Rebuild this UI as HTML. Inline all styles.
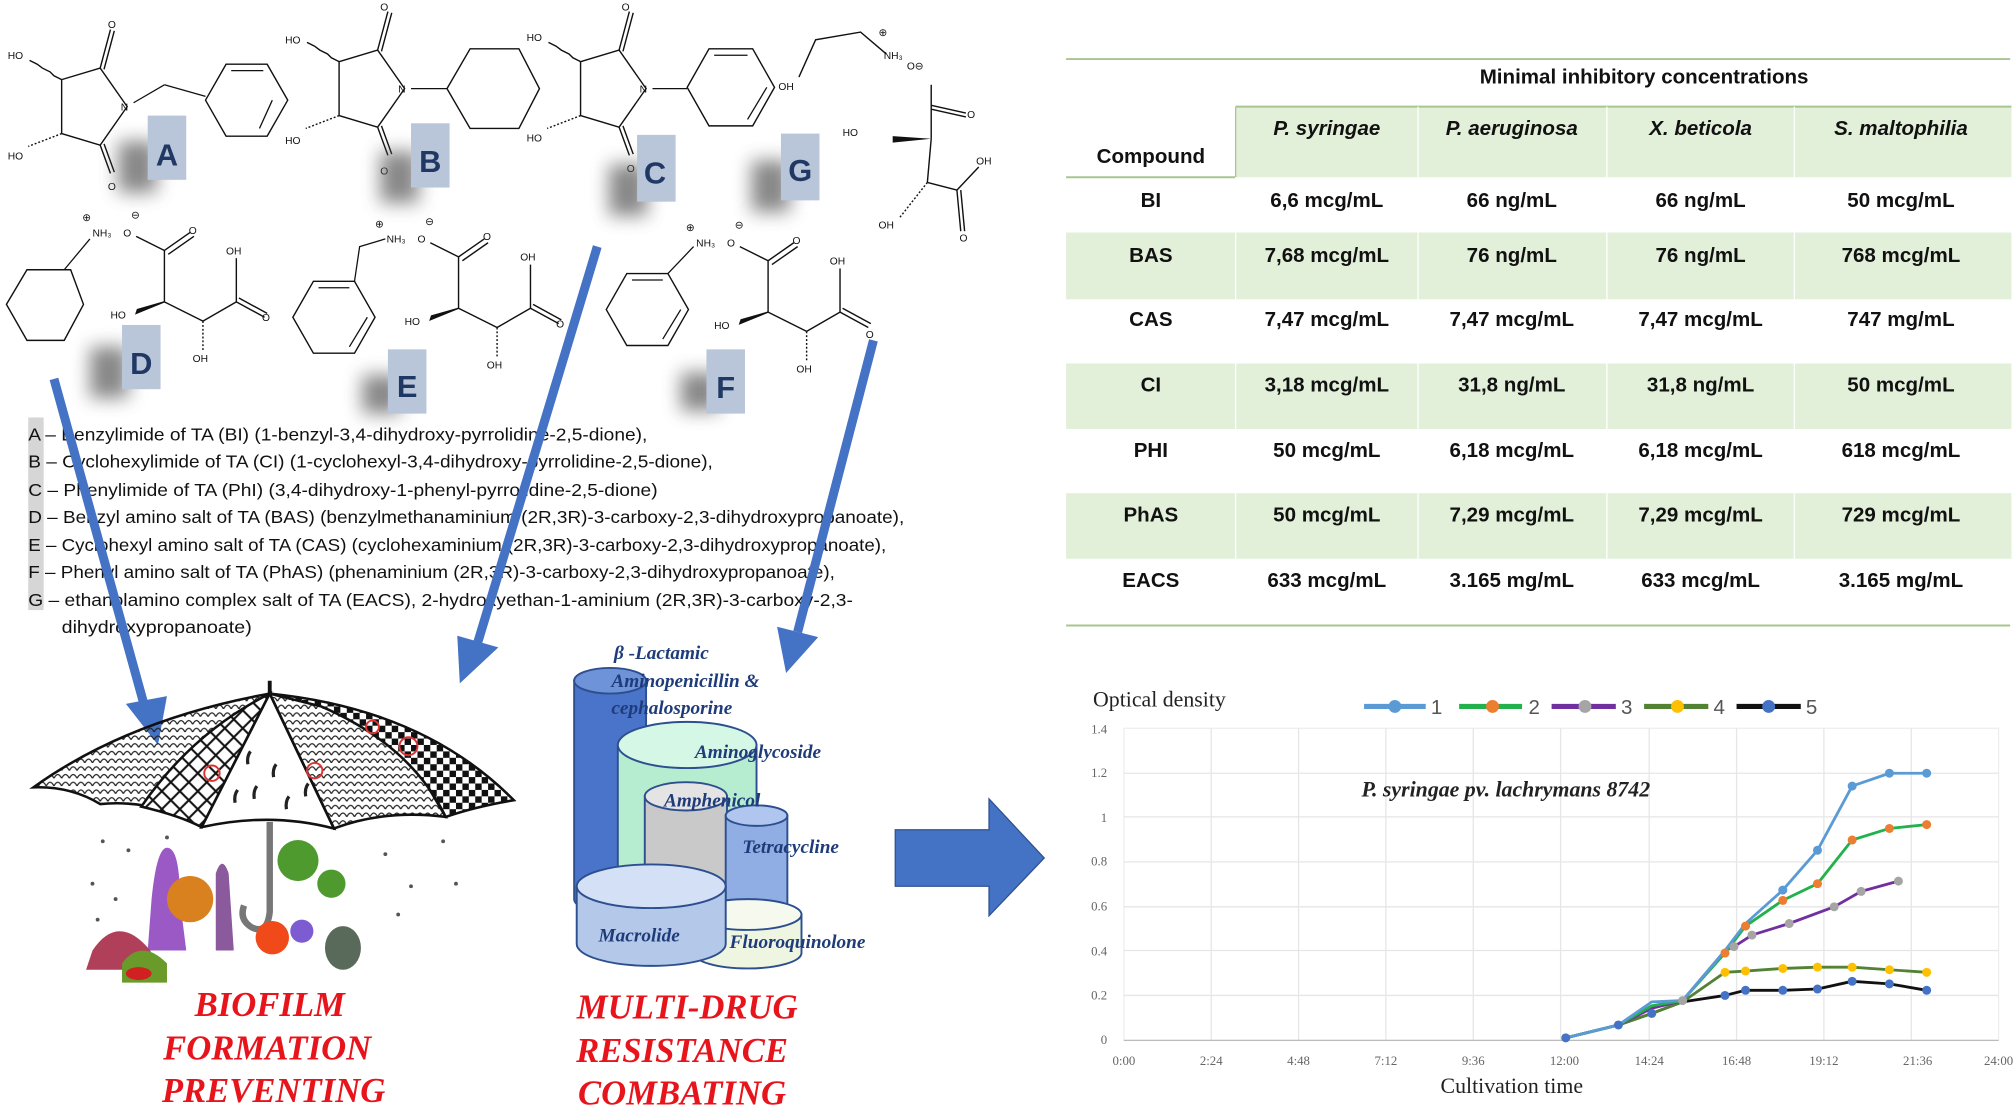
<!DOCTYPE html>
<html><head><meta charset="utf-8"><style>
html,body{margin:0;padding:0;background:#fff;}
svg{display:block;}
.t{font-family:"Liberation Sans",sans-serif;}
.tb{font-family:"Liberation Sans Narrow","Liberation Sans",sans-serif;font-weight:bold;font-size:16px;fill:#111;text-anchor:middle;}
.ch{font-family:"Liberation Sans",sans-serif;font-size:8px;fill:#111;}
.lg{font-family:"Liberation Sans Narrow","Liberation Sans",sans-serif;font-size:14px;fill:#111;}
.red{font-family:"Liberation Serif",serif;font-weight:bold;font-style:italic;font-size:27px;fill:#e8141c;text-anchor:middle;}
.cy{font-family:"Liberation Serif",serif;font-weight:bold;font-style:italic;font-size:15px;fill:#1f3c7a;}
.ax{font-family:"Liberation Serif",serif;font-size:10px;fill:#666;}
</style></head><body>
<svg width="2014" height="1119" viewBox="0 0 1568 871.2" preserveAspectRatio="none" xmlns="http://www.w3.org/2000/svg">
<defs>
<filter id="bl" x="-50%" y="-50%" width="200%" height="200%"><feGaussianBlur stdDeviation="7"/></filter>
<pattern id="hat" width="6" height="6" patternUnits="userSpaceOnUse"><path d="M0 6 Q3 0 6 6" fill="none" stroke="#222" stroke-width="1"/></pattern>
<pattern id="chk" width="10" height="10" patternUnits="userSpaceOnUse"><rect width="10" height="10" fill="#fff"/><rect width="5" height="5" fill="#111"/><rect x="5" y="5" width="5" height="5" fill="#111"/></pattern>
<pattern id="net" width="14" height="14" patternUnits="userSpaceOnUse"><rect width="14" height="14" fill="#fff"/><path d="M0 0L14 14M14 0L0 14" stroke="#111" stroke-width="1.6"/></pattern>
<g id="imide" fill="none" stroke="#111" stroke-width="1.1">
<polygon points="-51,-21 -21,-30 0,0 -21,30 -51,21"/>
<line x1="-21" y1="-30" x2="-13" y2="-60"/><line x1="-18" y1="-29" x2="-10" y2="-59"/>
<line x1="-21" y1="30" x2="-13" y2="52"/><line x1="-18" y1="29" x2="-10" y2="51"/>
<path d="M-51 -21 l-6 -3 l-3 -3 l-6 -3 l-4 -3 l-6 -3"/>
<path d="M-51 21 l-26 10" stroke-dasharray="1.5 1.5"/>
</g>
<g id="tart" fill="none" stroke="#111" stroke-width="1.1">
<line x1="52" y1="16" x2="52" y2="56"/><line x1="52" y1="16" x2="72" y2="2"/><line x1="55" y1="19" x2="75" y2="5"/>
<line x1="52" y1="16" x2="30" y2="5"/>
<line x1="52" y1="56" x2="82" y2="71"/><line x1="82" y1="71" x2="108" y2="56"/>
<polygon points="52,56 30,65 31,62" fill="#111"/>
<line x1="82" y1="71" x2="82" y2="95" stroke-dasharray="1.5 1.5"/>
<line x1="108" y1="56" x2="108" y2="22"/><line x1="108" y1="56" x2="130" y2="68"/><line x1="110" y1="53" x2="132" y2="65"/>
</g>
</defs>

<!-- structures top -->
<use href="#imide" x="99" y="83"/>
<text class="ch" x="84" y="22">O</text><text class="ch" x="84" y="148">O</text>
<text class="ch" x="6" y="46">HO</text><text class="ch" x="6" y="124">HO</text><text class="ch" x="94" y="86">N</text>
<line x1="104" y1="80" x2="128" y2="66" stroke="#111"/><line x1="128" y1="66" x2="160" y2="75" stroke="#111"/>
<polygon points="160,78 176,50 208,50 224,78 208,106 176,106" fill="none" stroke="#111" stroke-width="1.1"/>
<polyline points="180,55 205,55" stroke="#111" fill="none"/><polyline points="212,78 202,100" stroke="#111" fill="none"/>

<use href="#imide" x="315" y="69"/>
<text class="ch" x="296" y="8">O</text><text class="ch" x="296" y="136">O</text>
<text class="ch" x="222" y="34">HO</text><text class="ch" x="222" y="112">HO</text><text class="ch" x="310" y="72">N</text>
<line x1="320" y1="69" x2="348" y2="69" stroke="#111"/>
<polygon points="348,69 366,38 404,38 420,69 404,100 366,100" fill="none" stroke="#111" stroke-width="1.1"/>

<use href="#imide" x="503" y="69"/>
<text class="ch" x="484" y="8">O</text><text class="ch" x="488" y="134">O</text>
<text class="ch" x="410" y="32">HO</text><text class="ch" x="410" y="110">HO</text><text class="ch" x="498" y="72">N</text>
<line x1="508" y1="69" x2="535" y2="69" stroke="#111"/>
<polygon points="535,68 552,38 586,38 603,68 586,98 552,98" fill="none" stroke="#111" stroke-width="1.1"/>
<line x1="556" y1="43" x2="582" y2="43" stroke="#111"/><line x1="597" y1="68" x2="582" y2="93" stroke="#111"/>

<!-- G -->
<g fill="none" stroke="#111" stroke-width="1.1"><polyline points="622,60 635,31 670,25 690,42"/>
<line x1="725" y1="66" x2="725" y2="108"/><line x1="725" y1="82" x2="752" y2="88"/><line x1="725" y1="85" x2="752" y2="91"/>
<line x1="725" y1="108" x2="722" y2="142"/><line x1="722" y1="142" x2="745" y2="148"/><line x1="745" y1="148" x2="748" y2="180"/><line x1="748" y1="148" x2="751" y2="180"/><line x1="745" y1="148" x2="762" y2="130"/>
<line x1="722" y1="142" x2="700" y2="170" stroke-dasharray="1.5 1.5"/></g>
<polygon points="725,108 695,106 695,111" fill="#111"/>
<text class="ch" x="606" y="70">OH</text><text class="ch" x="684" y="28">⊕</text><text class="ch" x="688" y="46">NH₃</text><text class="ch" x="706" y="54">O⊖</text>
<text class="ch" x="753" y="92">O</text><text class="ch" x="656" y="106">HO</text><text class="ch" x="760" y="128">OH</text><text class="ch" x="747" y="188">O</text><text class="ch" x="684" y="178">OH</text>

<!-- D E F -->
<g>
<polygon points="5,237 21,210 55,210 65,237 50,265 21,265" fill="none" stroke="#111" stroke-width="1.1"/>
<line x1="50" y1="210" x2="70" y2="186" stroke="#111"/>
<use href="#tart" x="76" y="179"/>
<text class="ch" x="64" y="172">⊕</text><text class="ch" x="72" y="184">NH₃</text><text class="ch" x="96" y="184">O</text><text class="ch" x="102" y="170">⊖</text>
<text class="ch" x="147" y="182">O</text><text class="ch" x="176" y="198">OH</text><text class="ch" x="86" y="248">HO</text><text class="ch" x="150" y="282">OH</text><text class="ch" x="204" y="250">O</text>
</g>
<g>
<polygon points="228,247 244,219 276,219 292,247 276,275 244,275" fill="none" stroke="#111" stroke-width="1.1"/>
<line x1="248" y1="224" x2="272" y2="224" stroke="#111"/><line x1="286" y1="247" x2="272" y2="270" stroke="#111"/>
<polyline points="276,219 280,192 300,186" fill="none" stroke="#111"/>
<use href="#tart" x="305" y="184"/>
<text class="ch" x="292" y="177">⊕</text><text class="ch" x="301" y="189">NH₃</text><text class="ch" x="325" y="189">O</text><text class="ch" x="331" y="175">⊖</text>
<text class="ch" x="376" y="187">O</text><text class="ch" x="405" y="203">OH</text><text class="ch" x="315" y="253">HO</text><text class="ch" x="379" y="287">OH</text><text class="ch" x="433" y="255">O</text>
</g>
<g>
<polygon points="472,241 488,213 520,213 536,241 520,269 488,269" fill="none" stroke="#111" stroke-width="1.1"/>
<line x1="492" y1="218" x2="516" y2="218" stroke="#111"/><line x1="530" y1="241" x2="516" y2="264" stroke="#111"/>
<line x1="520" y1="213" x2="540" y2="192" stroke="#111"/>
<use href="#tart" x="546" y="187"/>
<text class="ch" x="534" y="180">⊕</text><text class="ch" x="542" y="192">NH₃</text><text class="ch" x="566" y="192">O</text><text class="ch" x="572" y="178">⊖</text>
<text class="ch" x="617" y="190">O</text><text class="ch" x="646" y="206">OH</text><text class="ch" x="556" y="256">HO</text><text class="ch" x="620" y="290">OH</text><text class="ch" x="674" y="263">O</text>
</g>

<!-- letter labels -->
<g font-family="Liberation Sans,sans-serif" font-weight="bold" font-size="24" fill="#1f3864" text-anchor="middle">
<rect x="92" y="110" width="30" height="40" fill="#555" filter="url(#bl)" opacity=".7"/><rect x="115" y="90" width="30" height="50" fill="#b9c5d9"/><text x="130" y="129">A</text>
<rect x="296" y="118" width="30" height="40" fill="#555" filter="url(#bl)" opacity=".7"/><rect x="320" y="96" width="30" height="50" fill="#b9c5d9"/><text x="335" y="134">B</text>
<rect x="474" y="128" width="30" height="40" fill="#555" filter="url(#bl)" opacity=".7"/><rect x="496" y="105" width="30" height="52" fill="#b9c5d9"/><text x="510" y="143">C</text>
<rect x="585" y="125" width="30" height="40" fill="#555" filter="url(#bl)" opacity=".7"/><rect x="608" y="104" width="30" height="52" fill="#b9c5d9"/><text x="623" y="141">G</text>
<rect x="70" y="270" width="30" height="40" fill="#555" filter="url(#bl)" opacity=".7"/><rect x="95" y="253" width="30" height="50" fill="#b9c5d9"/><text x="110" y="291">D</text>
<rect x="282" y="292" width="30" height="30" fill="#555" filter="url(#bl)" opacity=".7"/><rect x="302" y="272" width="30" height="50" fill="#b9c5d9"/><text x="317" y="309">E</text>
<rect x="530" y="290" width="30" height="30" fill="#555" filter="url(#bl)" opacity=".7"/><rect x="550" y="272" width="30" height="50" fill="#b9c5d9"/><text x="565" y="310">F</text>
</g>

<!-- legend lines -->
<rect x="22" y="325" width="12" height="150" fill="#d6d6d6"/>
<text class="lg" x="22" y="343" textLength="482" lengthAdjust="spacingAndGlyphs">A – Benzylimide of TA (BI) (1-benzyl-3,4-dihydroxy-pyrrolidine-2,5-dione),</text>
<text class="lg" x="22" y="364" textLength="533" lengthAdjust="spacingAndGlyphs">B – Cyclohexylimide of TA (CI) (1-cyclohexyl-3,4-dihydroxy-pyrrolidine-2,5-dione),</text>
<text class="lg" x="22" y="386" textLength="490" lengthAdjust="spacingAndGlyphs">C – Phenylimide of TA (PhI) (3,4-dihydroxy-1-phenyl-pyrrolidine-2,5-dione)</text>
<text class="lg" x="22" y="407" textLength="682" lengthAdjust="spacingAndGlyphs">D – Benzyl amino salt of TA (BAS) (benzylmethanaminium (2R,3R)-3-carboxy-2,3-dihydroxypropanoate),</text>
<text class="lg" x="22" y="429" textLength="668" lengthAdjust="spacingAndGlyphs">E – Cyclohexyl amino salt of TA (CAS) (cyclohexaminium (2R,3R)-3-carboxy-2,3-dihydroxypropanoate),</text>
<text class="lg" x="22" y="450" textLength="628" lengthAdjust="spacingAndGlyphs">F – Phenyl amino salt of TA (PhAS) (phenaminium (2R,3R)-3-carboxy-2,3-dihydroxypropanoate),</text>
<text class="lg" x="22" y="472" textLength="642" lengthAdjust="spacingAndGlyphs">G – ethanolamino complex salt of TA (EACS), 2-hydroxyethan-1-aminium (2R,3R)-3-carboxy-2,3-</text>
<text class="lg" x="48" y="493" textLength="148" lengthAdjust="spacingAndGlyphs">dihydroxypropanoate)</text>

<!-- blue arrows -->
<g stroke="#4472c4" stroke-width="7" fill="#4472c4">
<line x1="42" y1="295" x2="112" y2="548"/><polygon points="98,548 130,542 123,580" stroke="none"/>
<line x1="465" y1="192" x2="372" y2="500"/><polygon points="356,495 388,504 358,532" stroke="none"/>
<line x1="680" y1="265" x2="621" y2="492"/><polygon points="605,488 637,496 612,524" stroke="none"/>
</g>
<polygon points="697,646 770,646 770,622 813,668 770,713 770,690 697,690" fill="#4472c4" stroke="#2f528f" stroke-width="1"/>

<!-- umbrella -->
<path d="M26,613 Q100,560 210,540 L157,644 Q120,622 78,626 Q55,612 26,613Z" fill="url(#hat)" stroke="#111" stroke-width="2"/>
<path d="M210,540 L157,644 Q140,635 110,628 Q150,570 210,540Z" fill="url(#net)" stroke="#111" stroke-width="2"/>
<path d="M210,540 L157,644 Q210,632 260,645Z" fill="#fff" stroke="#111" stroke-width="2"/>
<path d="M210,540 Q290,550 320,590 L347,636 Q300,630 260,645Z" fill="url(#hat)" stroke="#111" stroke-width="2"/>
<path d="M210,540 Q330,552 400,623 Q370,628 347,636 Q320,580 250,550Z" fill="url(#chk)" stroke="#111" stroke-width="2"/>
<g stroke="#222" stroke-width="2.5" fill="none"><path d="M195,585 q-3,4 -2,10"/><path d="M215,595 q-3,4 -2,10"/><path d="M200,612 q-3,4 -2,10"/><path d="M225,620 q-3,4 -2,10"/><path d="M185,615 q-3,4 -2,10"/><path d="M240,610 q-3,4 -2,10"/></g>
<line x1="210" y1="540" x2="210" y2="530" stroke="#111" stroke-width="3"/>
<circle cx="165" cy="602" r="6" fill="none" stroke="#d33" stroke-width="1.5"/><circle cx="318" cy="581" r="7" fill="none" stroke="#d33" stroke-width="1.5"/><circle cx="245" cy="600" r="6" fill="none" stroke="#d33" stroke-width="1.5"/><circle cx="290" cy="566" r="5" fill="none" stroke="#d33" stroke-width="1.5"/>
<path d="M210,640 L210,710 Q208,728 196,722 Q186,716 190,705" fill="none" stroke="#777" stroke-width="5"/>
<g fill="#555"><circle cx="80" cy="655" r="1.5"/><circle cx="100" cy="662" r="1.5"/><circle cx="72" cy="688" r="1.5"/><circle cx="90" cy="700" r="1.5"/><circle cx="130" cy="652" r="1.5"/><circle cx="300" cy="665" r="1.5"/><circle cx="320" cy="690" r="1.5"/><circle cx="345" cy="655" r="1.5"/><circle cx="355" cy="688" r="1.5"/><circle cx="310" cy="712" r="1.5"/><circle cx="76" cy="716" r="1.5"/></g>
<path d="M118,700 Q122,660 130,660 Q140,660 140,700 L145,740 L115,740Z" fill="#9b59c6"/>
<circle cx="148" cy="700" r="18" fill="#d9811f"/>
<path d="M168,680 q5,-15 10,0 l4,60 h-14z" fill="#8a5a9c"/>
<path d="M72,740 q20,-30 45,0 l5,15 h-55z" fill="#b0405a"/>
<path d="M95,750 q15,-20 35,0 l0,15 h-35z" fill="#6a9a2a"/>
<ellipse cx="108" cy="758" rx="10" ry="5" fill="#d02020"/>
<circle cx="232" cy="670" r="16" fill="#4f9a2f"/><circle cx="258" cy="688" r="11" fill="#4f9a2f"/>
<circle cx="212" cy="730" r="13" fill="#f04a1a"/><circle cx="235" cy="725" r="9" fill="#7d5bd1"/>
<ellipse cx="267" cy="738" rx="14" ry="17" fill="#5a6a5a"/>

<!-- cylinders -->
<g stroke="#2d4f8f" stroke-width="1.5">
<path d="M447,530 L447,700 A28,10 0 0 0 503,700 L503,530Z" fill="#4a74c9"/>
<ellipse cx="475" cy="530" rx="28" ry="10" fill="#6f93d8"/>
<path d="M481,580 L481,690 A54,18 0 0 0 589,690 L589,580Z" fill="#b6ecd0"/>
<ellipse cx="535" cy="580" rx="54" ry="18" fill="#d5f7e5"/>
<path d="M502,620 L502,700 A32,11 0 0 0 566,700 L566,620Z" fill="#c9c9c9"/>
<ellipse cx="534" cy="620" rx="32" ry="11" fill="#e4e4e4"/>
<path d="M565,635 L565,710 A24,8 0 0 0 613,710 L613,635Z" fill="#90aee3"/>
<ellipse cx="589" cy="635" rx="24" ry="8" fill="#b0c6ee"/>
<path d="M540,712 L540,742 A42,12 0 0 0 624,742 L624,712Z" fill="#eef6e2"/>
<ellipse cx="582" cy="712" rx="42" ry="12" fill="#f6faee"/>
<path d="M449,690 L449,735 A58,17 0 0 0 565,735 L565,690Z" fill="#b4c8ea"/>
<ellipse cx="507" cy="690" rx="58" ry="17" fill="#d4e0f5"/>
</g>
<text class="cy" x="478" y="513">β -Lactamic</text>
<text class="cy" x="476" y="535">Aminopenicillin &amp;</text>
<text class="cy" x="476" y="556">cephalosporine</text>
<text class="cy" x="541" y="590">Aminoglycoside</text>
<text class="cy" x="517" y="628">Amphenicol</text>
<text class="cy" x="578" y="664">Tetracycline</text>
<text class="cy" x="466" y="733">Macrolide</text>
<text class="cy" x="568" y="738">Fluoroquinolone</text>

<text class="red" x="210" y="791">BIOFILM</text>
<text class="red" x="208" y="825">FORMATION</text>
<text class="red" x="213" y="858">PREVENTING</text>
<text class="red" x="535" y="793">MULTI-DRUG</text>
<text class="red" x="531" y="827">RESISTANCE</text>
<text class="red" x="531" y="860">COMBATING</text>

<!-- table -->
<line x1="830" y1="46" x2="1565" y2="46" stroke="#a9c58f" stroke-width="1.5"/>
<text class="tb" x="1280" y="65" font-size="13">Minimal inhibitory concentrations</text>
<rect x="962" y="83" width="604" height="55" fill="#e2efd9"/>
<line x1="962" y1="83" x2="1566" y2="83" stroke="#a9c58f" stroke-width="1.5"/>
<line x1="962" y1="83" x2="962" y2="138" stroke="#a9c58f"/>
<line x1="830" y1="138" x2="962" y2="138" stroke="#a9c58f" stroke-width="1.5"/>
<rect x="830" y="181" width="736" height="52" fill="#e2efd9"/>
<rect x="830" y="283" width="736" height="51" fill="#e2efd9"/>
<rect x="830" y="384" width="736" height="51" fill="#e2efd9"/>
<g stroke="#fff" stroke-width="1"><line x1="1104" y1="83" x2="1104" y2="470"/><line x1="1251" y1="83" x2="1251" y2="470"/><line x1="1397" y1="83" x2="1397" y2="470"/><line x1="962" y1="138" x2="962" y2="470"/></g>
<g class="tb" font-style="italic"><text x="1033" y="105" class="tb" font-style="italic">P. syringae</text><text x="1177" y="105" class="tb" font-style="italic">P. aeruginosa</text><text x="1324" y="105" class="tb" font-style="italic">X. beticola</text><text x="1480" y="105" class="tb" font-style="italic">S. maltophilia</text></g>
<text class="tb" x="896" y="127">Compound</text>
<g>
<text class="tb" x="896" y="161">BI</text><text class="tb" x="1033" y="161">6,6 mcg/mL</text><text class="tb" x="1177" y="161">66 ng/mL</text><text class="tb" x="1324" y="161">66 ng/mL</text><text class="tb" x="1480" y="161">50 mcg/mL</text>
<text class="tb" x="896" y="204">BAS</text><text class="tb" x="1033" y="204">7,68 mcg/mL</text><text class="tb" x="1177" y="204">76 ng/mL</text><text class="tb" x="1324" y="204">76 ng/mL</text><text class="tb" x="1480" y="204">768 mcg/mL</text>
<text class="tb" x="896" y="254">CAS</text><text class="tb" x="1033" y="254">7,47 mcg/mL</text><text class="tb" x="1177" y="254">7,47 mcg/mL</text><text class="tb" x="1324" y="254">7,47 mcg/mL</text><text class="tb" x="1480" y="254">747 mg/mL</text>
<text class="tb" x="896" y="305">CI</text><text class="tb" x="1033" y="305">3,18 mcg/mL</text><text class="tb" x="1177" y="305">31,8 ng/mL</text><text class="tb" x="1324" y="305">31,8 ng/mL</text><text class="tb" x="1480" y="305">50 mcg/mL</text>
<text class="tb" x="896" y="356">PHI</text><text class="tb" x="1033" y="356">50 mcg/mL</text><text class="tb" x="1177" y="356">6,18 mcg/mL</text><text class="tb" x="1324" y="356">6,18 mcg/mL</text><text class="tb" x="1480" y="356">618 mcg/mL</text>
<text class="tb" x="896" y="406">PhAS</text><text class="tb" x="1033" y="406">50 mcg/mL</text><text class="tb" x="1177" y="406">7,29 mcg/mL</text><text class="tb" x="1324" y="406">7,29 mcg/mL</text><text class="tb" x="1480" y="406">729 mcg/mL</text>
<text class="tb" x="896" y="457">EACS</text><text class="tb" x="1033" y="457">633 mcg/mL</text><text class="tb" x="1177" y="457">3.165 mg/mL</text><text class="tb" x="1324" y="457">633 mcg/mL</text><text class="tb" x="1480" y="457">3.165 mg/mL</text>
</g>
<line x1="830" y1="487" x2="1565" y2="487" stroke="#a9c58f" stroke-width="1.5"/>

<!-- chart -->
<text x="851" y="550" font-family="Liberation Serif,serif" font-size="17" fill="#222">Optical density</text>
<g stroke-width="4" font-family="Liberation Sans,sans-serif" font-size="16" fill="#555">
<line x1="1062" y1="550" x2="1110" y2="550" stroke="#5b9bd5"/><circle cx="1086" cy="550" r="5" fill="#5b9bd5"/><text x="1114" y="556" stroke="none">1</text>
<line x1="1136" y1="550" x2="1185" y2="550" stroke="#22b14c"/><circle cx="1162" cy="550" r="5" fill="#ed7d31"/><text x="1190" y="556" stroke="none">2</text>
<line x1="1208" y1="550" x2="1258" y2="550" stroke="#7030a0"/><circle cx="1234" cy="550" r="5" fill="#a5a5a5"/><text x="1262" y="556" stroke="none">3</text>
<line x1="1280" y1="550" x2="1330" y2="550" stroke="#548235"/><circle cx="1306" cy="550" r="5" fill="#ffc000"/><text x="1334" y="556" stroke="none">4</text>
<line x1="1352" y1="550" x2="1402" y2="550" stroke="#111"/><circle cx="1377" cy="550" r="5" fill="#4472c4"/><text x="1406" y="556" stroke="none">5</text>
</g>
<rect x="875" y="567" width="681" height="243" fill="#fff" stroke="#eee"/>
<g stroke="#e6e6e6" stroke-width="1">
<line x1="875" y1="775" x2="1556" y2="775"/><line x1="875" y1="740" x2="1556" y2="740"/><line x1="875" y1="706" x2="1556" y2="706"/><line x1="875" y1="671" x2="1556" y2="671"/><line x1="875" y1="636" x2="1556" y2="636"/><line x1="875" y1="602" x2="1556" y2="602"/>
<line x1="943" y1="567" x2="943" y2="810"/><line x1="1011" y1="567" x2="1011" y2="810"/><line x1="1079" y1="567" x2="1079" y2="810"/><line x1="1147" y1="567" x2="1147" y2="810"/><line x1="1215" y1="567" x2="1215" y2="810"/><line x1="1284" y1="567" x2="1284" y2="810"/><line x1="1352" y1="567" x2="1352" y2="810"/><line x1="1420" y1="567" x2="1420" y2="810"/><line x1="1488" y1="567" x2="1488" y2="810"/>
</g>
<line x1="875" y1="810" x2="1556" y2="810" stroke="#bbb"/>
<g class="ax" text-anchor="end"><text x="862" y="813">0</text><text x="862" y="778">0.2</text><text x="862" y="744">0.4</text><text x="862" y="709">0.6</text><text x="862" y="674">0.8</text><text x="862" y="640">1</text><text x="862" y="605">1.2</text><text x="862" y="571">1.4</text></g>
<g class="ax" text-anchor="middle"><text x="875" y="829">0:00</text><text x="943" y="829">2:24</text><text x="1011" y="829">4:48</text><text x="1079" y="829">7:12</text><text x="1147" y="829">9:36</text><text x="1218" y="829">12:00</text><text x="1284" y="829">14:24</text><text x="1352" y="829">16:48</text><text x="1420" y="829">19:12</text><text x="1493" y="829">21:36</text><text x="1556" y="829">24:00</text></g>
<text x="1177" y="851" text-anchor="middle" font-family="Liberation Serif,serif" font-size="17" fill="#222">Cultivation time</text>
<text x="1060" y="620" font-family="Liberation Serif,serif" font-weight="bold" font-style="italic" font-size="17" fill="#222">P. syringae pv. lachrymans 8742</text>
<g fill="none" stroke-width="2.2" stroke-linejoin="round">
<polyline stroke="#111" points="1219,808 1260,798 1286,789 1310,780 1343,775 1359,771 1388,771 1415,770 1442,764 1471,766 1500,771"/>
<polyline stroke="#548235" points="1219,808 1260,798 1286,789 1310,780 1343,757 1359,756 1388,754 1415,753 1442,753 1471,755 1500,757"/>
<polyline stroke="#7030a0" points="1219,808 1260,798 1286,785 1310,779 1343,740 1350,737 1364,728 1393,719 1428,706 1449,694 1478,686"/>
<polyline stroke="#22b14c" points="1219,808 1260,798 1286,783 1310,779 1343,742 1359,721 1388,701 1415,688 1442,654 1471,645 1500,642"/>
<polyline stroke="#5b9bd5" points="1219,808 1260,798 1286,780 1310,779 1343,740 1359,719 1388,693 1415,662 1442,612 1471,602 1500,602"/>
</g>
<g stroke="none">
<g fill="#4472c4"><circle cx="1343" cy="775" r="3.5"/><circle cx="1359" cy="771" r="3.5"/><circle cx="1388" cy="771" r="3.5"/><circle cx="1415" cy="770" r="3.5"/><circle cx="1442" cy="764" r="3.5"/><circle cx="1471" cy="766" r="3.5"/><circle cx="1500" cy="771" r="3.5"/><circle cx="1219" cy="808" r="3.5"/><circle cx="1260" cy="798" r="3.5"/><circle cx="1286" cy="789" r="3.5"/></g>
<g fill="#ffc000"><circle cx="1343" cy="757" r="3.5"/><circle cx="1359" cy="756" r="3.5"/><circle cx="1388" cy="754" r="3.5"/><circle cx="1415" cy="753" r="3.5"/><circle cx="1442" cy="753" r="3.5"/><circle cx="1471" cy="755" r="3.5"/><circle cx="1500" cy="757" r="3.5"/></g>
<g fill="#a5a5a5"><circle cx="1350" cy="737" r="3.5"/><circle cx="1364" cy="728" r="3.5"/><circle cx="1393" cy="719" r="3.5"/><circle cx="1428" cy="706" r="3.5"/><circle cx="1449" cy="694" r="3.5"/><circle cx="1478" cy="686" r="3.5"/><circle cx="1310" cy="779" r="3.5"/></g>
<g fill="#ed7d31"><circle cx="1343" cy="742" r="3.5"/><circle cx="1359" cy="721" r="3.5"/><circle cx="1388" cy="701" r="3.5"/><circle cx="1415" cy="688" r="3.5"/><circle cx="1442" cy="654" r="3.5"/><circle cx="1471" cy="645" r="3.5"/><circle cx="1500" cy="642" r="3.5"/></g>
<g fill="#5b9bd5"><circle cx="1388" cy="693" r="3.5"/><circle cx="1415" cy="662" r="3.5"/><circle cx="1442" cy="612" r="3.5"/><circle cx="1471" cy="602" r="3.5"/><circle cx="1500" cy="602" r="3.5"/></g>
</g>
</svg>
</body></html>
